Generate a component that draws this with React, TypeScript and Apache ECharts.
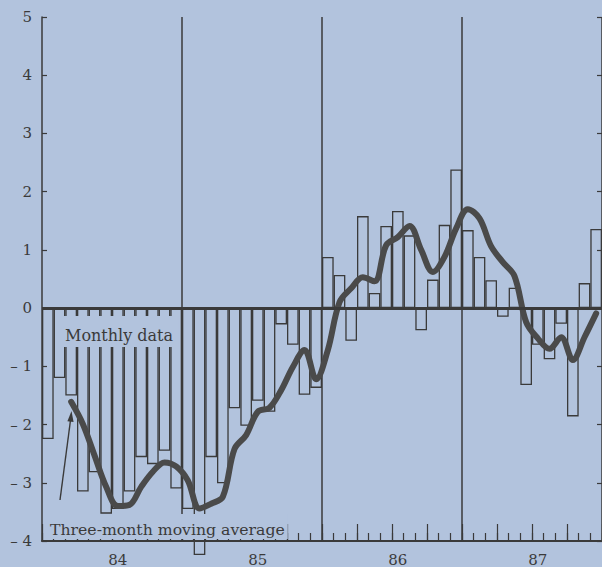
import React, { useEffect, useRef } from "react";
import * as echarts from "echarts";

const BG = "#b2c3dd";
const INK = "#3a3a3a";
const FONT = "DejaVu Serif";

const yearLabels = ["84", "85", "86", "87"];
const monthNames = ["Jan", "Feb", "Mar", "Apr", "May", "Jun", "Jul", "Aug", "Sep", "Oct", "Nov", "Dec"];
const categories = yearLabels.flatMap((y) => monthNames.map((m) => `${y} ${m}`));

// Monthly data (bars)
const monthlyData = [
  -2.25, -1.2, -1.5, -3.15, -2.82, -3.53, -3.45, -3.15, -2.56, -2.68, -2.45, -3.1,
  -3.45, -4.24, -2.56, -3.01, -1.72, -2.02, -1.59, -1.78, -0.28, -0.63, -1.49, -1.37,
  0.88, 0.57, -0.56, 1.58, 0.26, 1.41, 1.67, 1.25, -0.38, 0.49, 1.43, 2.38,
  1.34, 0.88, 0.48, -0.15, 0.35, -1.32, -0.63, -0.88, -0.27, -1.86, 0.43, 1.36,
];

// Three-month moving average (thick line)
const movingAverage: (number | null)[] = [
  null, null, -1.61, -1.99, -2.53, -3.07, -3.4, -3.38, -3.07, -2.81, -2.65, -2.72,
  -2.96, -3.44, -3.36, -3.24, -2.42, -2.18, -1.78, -1.71, -1.41, -1.01, -0.72, -1.22,
  -0.72, 0.1, 0.34, 0.53, 0.46, 1.08, 1.22, 1.41, 1.0, 0.62, 0.88, 1.37,
  1.7, 1.54, 1.06, 0.79, 0.55, -0.24, -0.52, -0.7, -0.5, -0.89, -0.5, -0.09,
];

const yMin = -4;
const yMax = 5;
const yStep = 1;

export default function App() {
  const ref = useRef<HTMLDivElement>(null);
  useEffect(() => {
    const chart = echarts.init(ref.current as HTMLDivElement, null, { renderer: "svg" });
    const tickStyle = { color: INK, width: 1.2 };
    const option: any = {
      animation: false,
      backgroundColor: BG,
      grid: { left: 42, right: 0, top: 17, bottom: 26, containLabel: false },
      xAxis: [
        {
          type: "category",
          data: categories,
          boundaryGap: true,
          axisLine: { show: true, onZero: false, lineStyle: { color: INK, width: 2 } },
          axisTick: { show: true, inside: true, interval: 0, length: 8, lineStyle: tickStyle },
          axisLabel: {
            show: true,
            interval: (i: number) => i % 12 === 6,
            formatter: (v: string) => v.split(" ")[0],
            fontFamily: FONT,
            fontSize: 15,
            color: INK,
            margin: 11,
          },
          splitLine: {
            show: true,
            interval: (i: number) => i % 12 === 0 && i > 0,
            lineStyle: { color: INK, width: 1.5 },
          },
        },
        {
          type: "category",
          data: categories,
          position: "bottom",
          boundaryGap: true,
          axisLine: { show: false, onZero: false },
          axisLabel: { show: false },
          axisTick: { show: true, inside: true, interval: (i: number) => i % 3 === 0, length: 17, lineStyle: tickStyle },
          splitLine: { show: false },
        },
      ],
      yAxis: [
        {
          type: "value",
          min: yMin,
          max: yMax,
          interval: yStep,
          axisLine: { show: true, onZero: false, lineStyle: { color: INK, width: 1.5 } },
          axisTick: { show: true, inside: true, length: 5, lineStyle: tickStyle },
          axisLabel: {
            formatter: (v: number) => (v < 0 ? `– ${Math.abs(v)}` : `${v}`),
            fontFamily: FONT,
            fontSize: 15,
            color: INK,
            margin: 10,
          },
          splitLine: { show: false },
        },
        {
          type: "value",
          min: yMin,
          max: yMax,
          interval: yStep,
          position: "right",
          axisLine: { show: false, onZero: false },
          axisTick: { show: true, inside: true, length: 5, lineStyle: tickStyle },
          axisLabel: { show: false },
          splitLine: { show: false },
        },
      ],
      series: [
        {
          type: "bar",
          name: "Monthly data",
          data: monthlyData,
          barCategoryGap: "0%",
          clip: false,
          itemStyle: { color: "rgba(0,0,0,0)", borderColor: INK, borderWidth: 1.3 },
          z: 2,
          markLine: {
            silent: true,
            symbol: ["none", "none"],
            label: { show: false },
            lineStyle: { color: INK, width: 3, type: "solid" },
            data: [{ yAxis: 0 }],
          },
        },
        {
          type: "line",
          name: "Three-month moving average",
          data: movingAverage,
          smooth: 0.35,
          symbol: "none",
          connectNulls: false,
          lineStyle: { color: "#4a4a4a", width: 6, cap: "round", join: "round" },
          z: 3,
        },
      ],
      graphic: [
        {
          type: "text",
          z: 100,
          style: {
            text: "Monthly data",
            x: 60,
            y: 316,
            align: "left",
            verticalAlign: "top",
            fontFamily: FONT,
            fontSize: 16,
            fill: INK,
            backgroundColor: BG,
            padding: [11, 5, 4, 5],
          },
        },
        {
          type: "text",
          z: 100,
          style: {
            text: "Three-month moving average",
            x: 45,
            y: 514,
            align: "left",
            verticalAlign: "top",
            fontFamily: FONT,
            fontSize: 15.7,
            fill: INK,
            backgroundColor: BG,
            padding: [7, 3, 2, 5],
          },
        },
        {
          type: "line",
          z: 100,
          shape: { x1: 60, y1: 500, x2: 70.4, y2: 421 },
          style: { stroke: INK, lineWidth: 1.4 },
        },
        {
          type: "polygon",
          z: 100,
          shape: { points: [[71.5, 411], [73.6, 422], [67.4, 421.2]] },
          style: { fill: INK },
        },
      ],
    };
    chart.setOption(option);
    return () => chart.dispose();
  }, []);
  return (
    <div
      ref={ref}
      style={{ position: "fixed", left: 0, top: 0, width: 602, height: 567, background: BG }}
    />
  );
}
